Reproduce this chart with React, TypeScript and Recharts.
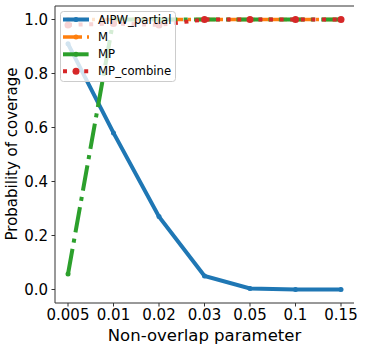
import React from 'react';
import { LineChart, Line, XAxis, YAxis } from 'recharts';

const categories = ['0.005', '0.01', '0.02', '0.03', '0.05', '0.1', '0.15'];
const aipwPartial = [0.91, 0.58, 0.27, 0.05, 0.004, 0, 0];
const mValues = [1, 1, 1, 1, 1, 1, 1];
const mpValues = [0.057, 1, 1, 1, 1, 1, 1];
const mpCombine = [0.98, 0.985, 0.98, 1, 1, 1, 1];
const yTicks = [0, 0.2, 0.4, 0.6, 0.8, 1.0];

const data = categories.map((c, i) => ({
  param: c,
  aipw: aipwPartial[i],
  m: mValues[i],
  mp: mpValues[i],
  mpc: mpCombine[i],
}));

const FONT = 'DejaVu Sans, sans-serif';
const AXIS = '#333';

const SERIES = [
  { key: 'aipw', name: 'AIPW_partial', color: '#1f77b4', width: 4, dash: undefined as string | undefined, r: 2.5 },
  { key: 'm', name: 'M', color: '#ff7f0e', width: 3.5, dash: '19 5 3 5', r: 2.5 },
  { key: 'mp', name: 'MP', color: '#2ca02c', width: 4, dash: '25.6 6.4 4 6.4', r: 2.5 },
  { key: 'mpc', name: 'MP_combine', color: '#d62728', width: 4, dash: '4 6.6', r: 3.5 },
];

function ChartLegend() {
  const rowY = [8.5, 26, 43.3, 60.3];
  return (
    <svg width={117} height={72} style={{ position: 'absolute', left: 59.5, top: 11, overflow: 'visible' }}>
      <rect x={0.5} y={0.5} width={115} height={70} rx={3} fill="#fff" fillOpacity={0.8} stroke="#ccc" />
      {SERIES.map((s, i) => (
        <g key={s.key}>
          <line x1={3} y1={rowY[i]} x2={29} y2={rowY[i]} stroke={s.color} strokeWidth={s.width} strokeDasharray={s.dash} />
          <circle cx={16} cy={rowY[i]} r={s.r} fill={s.color} />
          <text x={38} y={rowY[i]} dominantBaseline="central" fontSize={11.7} fontFamily={FONT} fill="#000">
            {s.name}
          </text>
        </g>
      ))}
    </svg>
  );
}

export default function App() {
  return (
    <div style={{ position: 'absolute', left: 0, top: 0, width: 365, height: 350, background: '#fff' }}>
      <LineChart width={365} height={350} data={data} margin={{ top: 5, right: 11, bottom: 0, left: 0 }}>
        <XAxis
          dataKey="param"
          type="category"
          height={47}
          padding={{ left: 13, right: 13 }}
          interval={0}
          tickSize={3.5}
          tickMargin={2.5}
          stroke={AXIS}
          tick={{ fontSize: 15, fill: '#000', fontFamily: FONT }}
          label={(props: any) => (
            <text x={204.5} y={341} textAnchor="middle" fontSize={16.5} fontFamily={FONT} fill="#000">
              Non-overlap parameter
            </text>
          )}
        />
        <XAxis
          xAxisId="top"
          dataKey="param"
          orientation="top"
          height={1}
          tick={false}
          tickLine={false}
          stroke={AXIS}
          padding={{ left: 13, right: 13 }}
        />
        <YAxis
          type="number"
          domain={[-0.05, 1.05]}
          ticks={yTicks}
          width={55}
          tickSize={3.5}
          tickMargin={3.5}
          stroke={AXIS}
          tickFormatter={(v: number) => v.toFixed(1)}
          tick={{ fontSize: 15, fill: '#000', fontFamily: FONT }}
          label={(props: any) => (
            <text x={17} y={154} transform="rotate(-90, 17, 154)" textAnchor="middle" fontSize={15} fontFamily={FONT} fill="#000">
              Probability of coverage
            </text>
          )}
        />
        <YAxis yAxisId="right" orientation="right" type="number" domain={[-0.05, 1.05]} width={0} tick={false} tickLine={false} stroke={AXIS} />
        {SERIES.map((s) => (
          <Line
            key={s.key}
            type="linear"
            dataKey={s.key}
            name={s.name}
            stroke={s.color}
            strokeWidth={s.width}
            strokeDasharray={s.dash}
            dot={{ r: s.r, fill: s.color, stroke: 'none' }}
            activeDot={false}
            isAnimationActive={false}
          />
        ))}
      </LineChart>
      <ChartLegend />
    </div>
  );
}
